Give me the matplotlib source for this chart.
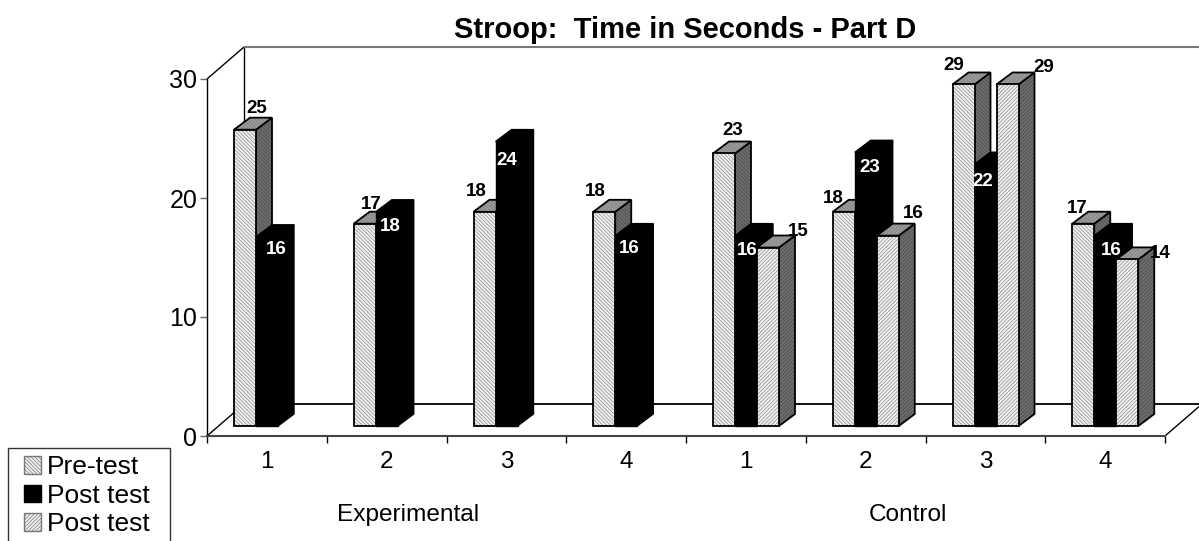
import matplotlib
matplotlib.use("Agg")
import matplotlib.pyplot as plt
from matplotlib.patches import Patch, Polygon, Rectangle

plt.rcParams["font.family"] = ["Liberation Sans", "DejaVu Sans"]
plt.rcParams["hatch.linewidth"] = 0.5

group_labels = ["1", "2", "3", "4", "1", "2", "3", "4"]
pre_test = [24.9, 17, 18, 18, 22.9, 18, 28.7, 17]
post_test = [15.9, 18, 23.9, 16, 16, 23, 22, 16]
post_test_2 = [None, None, None, None, 15, 16, 28.7, 14]
series_names = ["Pre-test", "Post test", "Post test"]

# label offsets from the bar's top centre, in pixels (placed by eye)
pre_offsets = [(12, 21), (6, 19), (-8, 20), (-9, 20), (9, 23), (-10, 13), (-10, 19), (-6, 15)]
post_offsets = [(9, -13), (4, -15), (0, -19), (3, -13), (1, -15), (4, -15), (-3, -17), (6, -15)]
post2_offsets = [None, None, None, None, (30, 16), (25, 22), (36, 17), (33, 6)]

W, H = 1199, 541
fig = plt.figure(figsize=(W / 100, H / 100), dpi=100)
ax = fig.add_axes([207 / W, (H - 436) / H, 958 / W, 357 / H])
ax.set_xlim(0, 8)
ax.set_ylim(0, 30)
ax.patch.set_alpha(0)

# sizes of the fake 3d box, data units
ux = 958 / 8
uy = 357 / 30
box_dx = 37 / ux
box_dy = 32 / uy
bar_w = 22 / ux
bar_dx = 16 / ux
bar_dy = 12 / uy
floor_y = 10 / uy
start_x = 27 / ux


def line(xs, ys, color="black", lw=1.0):
    ax.plot(xs, ys, color=color, lw=lw, clip_on=False, zorder=1, solid_capstyle="butt")


line([0, box_dx], [30, 30 + box_dy])
line([0, box_dx], [0, box_dy])
line([box_dx, box_dx], [box_dy, 30 + box_dy])
line([box_dx, 8 + box_dx], [30 + box_dy, 30 + box_dy], color="#777777", lw=1.5)
line([box_dx, 8 + box_dx], [box_dy, box_dy], lw=1.3)
line([8, 8 + box_dx], [0, box_dy])


def face(pts, base, hatch_col, hatch, z, edge="black"):
    ax.add_patch(Polygon(pts, closed=True, facecolor=base, edgecolor=hatch_col, hatch=hatch,
                         lw=0, clip_on=False, zorder=z))
    ax.add_patch(Polygon(pts, closed=True, facecolor="none", edgecolor=edge, lw=1.3,
                         joinstyle="miter", clip_on=False, zorder=z))


def bar3d(x, v, kind, z):
    y0 = floor_y
    y1 = floor_y + v
    front = [(x, y0), (x + bar_w, y0), (x + bar_w, y1), (x, y1)]
    side = [(x + bar_w, y0), (x + bar_w + bar_dx, y0 + bar_dy), (x + bar_w + bar_dx, y1 + bar_dy), (x + bar_w, y1)]
    top = [(x, y1), (x + bar_w, y1), (x + bar_w + bar_dx, y1 + bar_dy), (x + bar_dx, y1 + bar_dy)]
    if kind == 1:
        for pts in (side, top, front):
            ax.add_patch(Polygon(pts, closed=True, facecolor="black", edgecolor="black", lw=1.0,
                                 clip_on=False, zorder=z))
        return
    h = "\\" * 9 if kind == 0 else "/" * 9
    face(side, "#5a5a5a", "#808080", h, z)
    face(top, "#8c8c8c", "#a8a8a8", h, z)
    face(front, "#f0f0f0", "#8c8c8c", h, z)


def value_label(x, v, off, color, z):
    ax.annotate(str(round(v)), (x + bar_w / 2, floor_y + v), xytext=(off[0] * 0.72, off[1] * 0.72),
                textcoords="offset points", ha="center", va="center", fontsize=13.5, fontweight="bold",
                color=color, annotation_clip=False, zorder=z)


z = 5
for g in range(8):
    x = g + start_x
    bar3d(x, pre_test[g], 0, z)
    value_label(x, pre_test[g], pre_offsets[g], "black", z + 0.5)
    z += 1
    x = x + bar_w
    bar3d(x, post_test[g], 1, z)
    value_label(x, post_test[g], post_offsets[g], "white", z + 0.5)
    z += 1
    if post_test_2[g] is not None:
        x = x + bar_w
        bar3d(x, post_test_2[g], 2, z)
        value_label(x, post_test_2[g], post2_offsets[g], "black", z + 0.5)
        z += 1

for s in ("top", "right"):
    ax.spines[s].set_visible(False)
ax.spines["left"].set_linewidth(1.0)
ax.spines["bottom"].set_linewidth(1.5)
ax.spines["bottom"].set_color("#444444")

ax.set_yticks([0, 10, 20, 30])
ax.tick_params(axis="y", length=5, width=1, color="#666666", labelsize=18, pad=2)
ax.set_xticks(range(9))
ax.set_xticklabels([])
ax.tick_params(axis="x", which="major", length=5, width=1)
ax.set_xticks([g + 0.5 for g in range(8)], minor=True)
ax.set_xticklabels(group_labels, minor=True, fontsize=17.5)
ax.tick_params(axis="x", which="minor", length=0, pad=11)

trans = ax.get_xaxis_transform()
ax.text(1.68, -0.221, "Experimental", transform=trans, ha="center", va="center", fontsize=17.6)
ax.text(5.85, -0.221, "Control", transform=trans, ha="center", va="center", fontsize=17.6)

fig.text(685 / W, 1 - 30 / H, "Stroop:  Time in Seconds - Part D", ha="center", va="center",
         fontsize=21, fontweight="bold")

# the box runs off the bottom of the picture, so it is drawn apart from the legend
fig.add_artist(Rectangle((8 / W, -2 / H), 162 / W, (H - 448 + 2) / H, transform=fig.transFigure,
                         facecolor="white", edgecolor="#333333", lw=1.0))
handles = [
    Patch(facecolor="#f0f0f0", edgecolor="#777777", hatch="\\" * 9),
    Patch(facecolor="black", edgecolor="black"),
    Patch(facecolor="#f0f0f0", edgecolor="#777777", hatch="/" * 9),
]
leg = fig.legend(handles, series_names, loc="upper left", bbox_to_anchor=(19 / W, 1 - 450 / H),
                 bbox_transform=fig.transFigure, borderaxespad=0, fontsize=19, frameon=False,
                 handlelength=0.62, handleheight=0.62, handletextpad=0.25, labelspacing=0.17,
                 borderpad=0.2)
leg.set_zorder(10)

fig.savefig("out.png", dpi=100, facecolor="white")
